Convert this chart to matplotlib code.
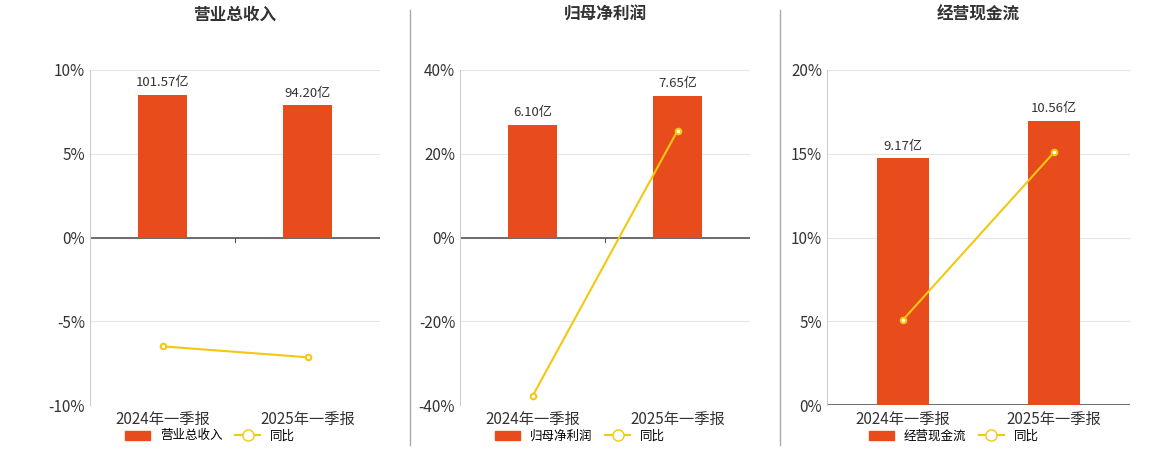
import matplotlib.pyplot as plt
from matplotlib.lines import Line2D
from matplotlib.patches import Patch
from matplotlib.ticker import FuncFormatter

plt.rcParams['font.family'] = ['Noto Sans CJK SC', 'DejaVu Sans']

periods = ["2024年一季报", "2025年一季报"]
titles = ["营业总收入", "归母净利润", "经营现金流"]
bar_vals = [[101.57, 94.20], [6.10, 7.65], [9.17, 10.56]]
yoy_vals = [[-6.5, -7.15], [-37.9, 25.5], [5.07, 15.1]]
pct_lims = [(-10, 10), (-40, 40), (0, 20)]
pct_ticks = [[-10, -5, 0, 5, 10], [-40, -20, 0, 20, 40], [0, 5, 10, 15, 20]]
bar_lims = [(-119.3, 119.3), (-9.05, 9.05), (0, 12.45)]

BAR = "#e84c1c"
LINE = "#f2c811"

fig = plt.figure(figsize=(11.6, 4.5), dpi=100)
lefts = [90, 460, 827]
widths = [290, 290, 303]
for i in range(3):
    ax = fig.add_axes([lefts[i] / 1160, 45 / 450, widths[i] / 1160, 335 / 450])
    ax2 = ax.twinx()
    ax.set_ylim(*pct_lims[i])
    ax.set_yticks(pct_ticks[i])
    ax.yaxis.set_major_formatter(FuncFormatter(lambda v, p: f"{v:.0f}%"))
    ax.set_xlim(-0.5, 1.5)
    ax.set_xticks([0, 1])
    ax.set_xticklabels(periods, fontsize=11, color="#333333")
    ax.tick_params(axis="x", length=0, pad=4)
    ax.tick_params(axis="y", length=0, labelsize=11, labelcolor="#333333")
    ax.grid(axis="y", color="#e6e6e6", linewidth=0.8)
    ax.set_axisbelow(True)
    for s in ["top", "right", "bottom"]:
        ax.spines[s].set_visible(False)
    ax.spines["left"].set_color("#cccccc")
    ax.axhline(0, color="#555555", linewidth=1.2, zorder=1)
    if pct_lims[i][0] < 0:
        ax.plot([0.5, 0.5], [0, -0.012 * (pct_lims[i][1] - pct_lims[i][0])], color="#555555", lw=0.8)
    ax.set_title(titles[i], fontsize=12, fontweight="bold", color="#333333", pad=36)

    ax2.set_ylim(*bar_lims[i])
    ax2.set_yticks([])
    for s in ax2.spines.values():
        s.set_visible(False)
    ax2.bar([0, 1], bar_vals[i], width=0.34, color=BAR, zorder=2)
    for x, v in zip([0, 1], bar_vals[i]):
        ax2.annotate(f"{v:.2f}亿", (x, v), xytext=(0, 4), textcoords="offset points",
                     ha="center", va="bottom", fontsize=9.5, color="#333333")
    ax3 = ax.twinx()
    ax3.set_ylim(*pct_lims[i])
    ax3.set_yticks([])
    for s in ax3.spines.values():
        s.set_visible(False)
    ax3.plot([0, 1], yoy_vals[i], color=LINE, lw=1.5, marker="o", markersize=4,
             markerfacecolor="white", markeredgecolor=LINE, markeredgewidth=1.5, zorder=3)

    handles = [Patch(color=BAR), Line2D([], [], color=LINE, lw=1.5, marker="o",
               markerfacecolor="white", markersize=8)]
    fig.legend(handles, [titles[i], "同比"], loc="center",
               bbox_to_anchor=((lefts[i] + widths[i] / 2 - 25) / 1160, 14 / 450),
               ncol=2, frameon=False, fontsize=9, handlelength=2, columnspacing=1)

for x in [410, 780]:
    fig.add_artist(Line2D([x / 1160] * 2, [5 / 450, 440 / 450], color="#aaaaaa", lw=1))

fig.savefig("out.png")
